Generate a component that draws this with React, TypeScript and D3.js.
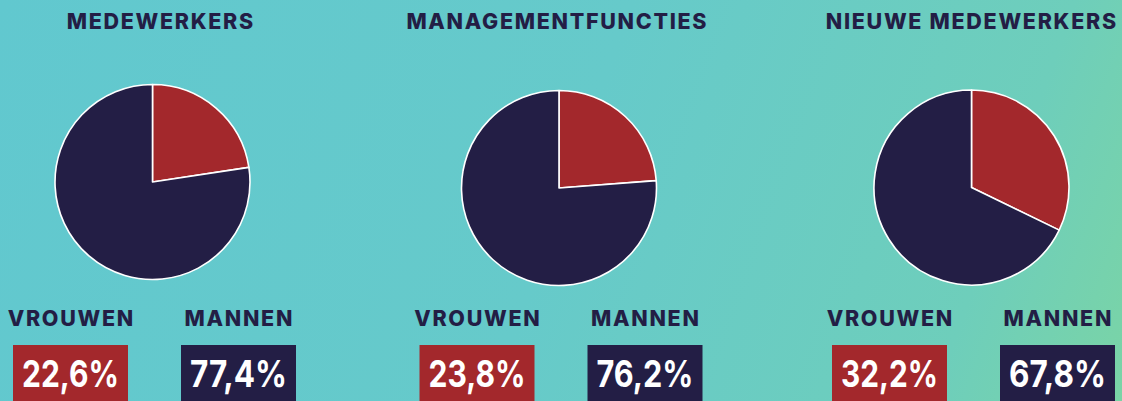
import React from "react";
import * as d3 from "d3";

// Gender split per group (percent)
const groups = ["MEDEWERKERS", "MANAGEMENTFUNCTIES", "NIEUWE MEDEWERKERS"];
const vrouwen = [22.6, 23.8, 32.2];
const mannen = [77.4, 76.2, 67.8];
const seriesLabels = ["VROUWEN", "MANNEN"];

const W = 1122;
const H = 401;

const RED = "#A3282C";
const NAVY = "#231E45";

// Panel anchors: pie centres and title centres
const pieCx = [152.5, 559, 971.5];
const pieCy = [182, 188, 187.5];
const titleCx = [160, 556.5, 971];
const radius = 97.5;

const fmt = (v: number) => v.toFixed(1).replace(".", ",") + "%";

export default function App() {
  const pie = d3
    .pie<number>()
    .sort(null)
    .value((d) => d);
  const arc = d3.arc<d3.PieArcDatum<number>>().innerRadius(0).outerRadius(radius);

  const labelFont = "'Inter', 'DejaVu Sans', sans-serif";

  return (
    <svg
      width={W}
      height={H}
      style={{ position: "absolute", left: 0, top: 0, display: "block" }}
    >
      <defs>
        <linearGradient id="bg" gradientUnits="userSpaceOnUse" x1={0} y1={0} x2={W} y2={H}>
          <stop offset="0" stopColor="#61C8CF" />
          <stop offset="0.5" stopColor="#66CACA" />
          <stop offset="0.85" stopColor="#6ECEBB" />
          <stop offset="1" stopColor="#7AD4A6" />
        </linearGradient>
      </defs>
      <rect x={0} y={0} width={W} height={H} fill="url(#bg)" />

      {groups.map((g, i) => {
        const arcs = pie([vrouwen[i], mannen[i]]);
        const cx = pieCx[i];
        const values = [vrouwen[i], mannen[i]];
        const colors = [RED, NAVY];
        const labelX = [cx - 82, cx + 86];
        return (
          <g key={g}>
            <text
              x={titleCx[i] + 0.8}
              y={29}
              textAnchor="middle"
              fill={NAVY}
              fontFamily={labelFont}
              fontWeight={800}
              fontSize={21.5}
              letterSpacing={1.7}
            >
              {g}
            </text>
            <g transform={`translate(${cx},${pieCy[i]})`}>
              {arcs.map((a, j) => (
                <path
                  key={j}
                  d={arc(a) || ""}
                  fill={colors[j]}
                  stroke="#ffffff"
                  strokeWidth={1.6}
                  strokeLinejoin="round"
                />
              ))}
            </g>
            {values.map((v, j) => (
              <g key={j}>
                <text
                  x={labelX[j] + 0.8}
                  y={326}
                  textAnchor="middle"
                  fill={NAVY}
                  fontFamily={labelFont}
                  fontWeight={800}
                  fontSize={21.5}
                  letterSpacing={1.7}
                >
                  {seriesLabels[j]}
                </text>
                <rect x={labelX[j] - 57.5} y={345} width={115} height={70} fill={colors[j]} />
                <text
                  x={labelX[j]}
                  y={387}
                  textAnchor="middle"
                  fill="#ffffff"
                  fontFamily={labelFont}
                  fontWeight={700}
                  fontSize={37}
                  textLength={97}
                  lengthAdjust="spacingAndGlyphs"
                >
                  {fmt(v)}
                </text>
              </g>
            ))}
          </g>
        );
      })}
    </svg>
  );
}
